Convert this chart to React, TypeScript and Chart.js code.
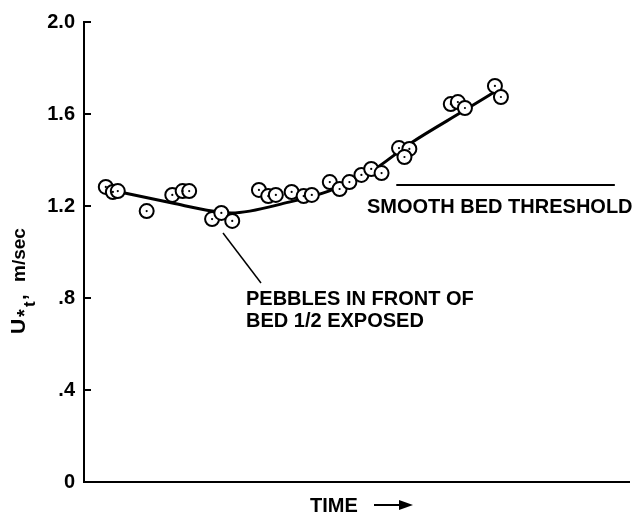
import React, { useEffect, useRef } from "react";
import { Chart, registerables } from "chart.js";

Chart.register(...registerables);

// Observed points (time in arbitrary units 0..100, U*t in m/sec)
const pointTimes = [4.0, 5.3, 6.2, 11.5, 16.2, 18.1, 19.3, 23.5, 25.2, 27.2, 32.1, 33.8, 35.2, 38.1, 40.3, 41.8, 45.1, 46.9, 48.7, 50.9, 52.7, 54.6, 57.8, 59.7, 58.8, 67.3, 68.6, 69.9, 75.4, 76.5];
const pointValues = [1.283, 1.261, 1.265, 1.178, 1.248, 1.265, 1.265, 1.143, 1.170, 1.135, 1.270, 1.243, 1.248, 1.261, 1.243, 1.248, 1.304, 1.274, 1.304, 1.335, 1.361, 1.343, 1.452, 1.448, 1.413, 1.643, 1.652, 1.626, 1.722, 1.674];

// Fitted curve
const curveTimes = [5.7, 16.2, 23.5, 27.0, 37.6, 44.9, 52.2, 60.0, 69.9, 75.9];
const curveValues = [1.265, 1.213, 1.178, 1.170, 1.217, 1.265, 1.343, 1.474, 1.617, 1.704];

// Smooth bed threshold
const thresholdTimes = [57.3, 97.4];
const thresholdValue = 1.291;

const yTickValues = [0, 0.4, 0.8, 1.2, 1.6, 2.0];
const yTickLabels = ["0", ".4", ".8", "1.2", "1.6", "2.0"];

const FONT = '"Liberation Sans", Arial, Helvetica, sans-serif';

const annotationPlugin = {
  id: "annotations",
  afterDraw(chart: any) {
    const ctx = chart.ctx;
    const ys = chart.scales.y;
    const area = chart.chartArea;
    ctx.save();
    ctx.strokeStyle = "#000";
    ctx.fillStyle = "#000";
    // inward y ticks
    ctx.lineWidth = 2;
    yTickValues.forEach((v) => {
      const py = Math.round(ys.getPixelForValue(v));
      ctx.beginPath();
      ctx.moveTo(area.left, py);
      ctx.lineTo(area.left + 7, py);
      ctx.stroke();
    });
    const txt = (s: string, x: number, y: number, size = 20) => {
      ctx.font = `bold ${size}px ${FONT}`;
      ctx.textAlign = "left";
      ctx.textBaseline = "alphabetic";
      ctx.fillText(s, x, y);
    };
    txt("SMOOTH BED THRESHOLD", 367, 213);
    txt("PEBBLES IN FRONT OF", 246, 305);
    txt("BED 1/2 EXPOSED", 246, 327);
    // leader line
    ctx.lineWidth = 1.5;
    ctx.beginPath();
    ctx.moveTo(223, 233);
    ctx.lineTo(261, 283);
    ctx.stroke();
    // x title
    txt("TIME", 310, 512);
    ctx.lineWidth = 2;
    ctx.beginPath();
    ctx.moveTo(374, 505);
    ctx.lineTo(402, 505);
    ctx.stroke();
    ctx.beginPath();
    ctx.moveTo(413, 505);
    ctx.lineTo(399, 500);
    ctx.lineTo(399, 510);
    ctx.closePath();
    ctx.fill();
    // y title rotated
    ctx.save();
    ctx.translate(25, 334);
    ctx.rotate(-Math.PI / 2);
    ctx.textBaseline = "alphabetic";
    ctx.textAlign = "left";
    const part = (s: string, size: number, x: number, dy: number) => {
      ctx.font = `bold ${size}px ${FONT}`;
      ctx.fillText(s, x, dy);
    };
    part("U", 21, 0, 0);
    part("*", 20, 17, 6);
    part("t", 17, 27, 10);
    part(",", 20, 34, 1);
    part("m/sec", 19, 52, 0);
    ctx.restore();
    ctx.restore();
  },
};

export default function App() {
  const ref = useRef<HTMLCanvasElement>(null);
  useEffect(() => {
    if (!ref.current) return;
    const points = pointTimes.map((t, i) => ({ x: t, y: pointValues[i] }));
    const curve = curveTimes.map((t, i) => ({ x: t, y: curveValues[i] }));
    const threshold = thresholdTimes.map((t) => ({ x: t, y: thresholdValue }));
    const chart = new Chart(ref.current, {
      type: "line",
      data: {
        datasets: [
          {
            data: curve,
            borderColor: "#000",
            borderWidth: 3,
            pointRadius: 0,
            cubicInterpolationMode: "monotone",
            order: 4,
          },
          {
            data: threshold,
            borderColor: "#000",
            borderWidth: 2,
            pointRadius: 0,
            order: 3,
          },
          {
            data: points,
            showLine: false,
            pointRadius: 7,
            pointBorderWidth: 2,
            pointBorderColor: "#000",
            pointBackgroundColor: "#fff",
            order: 2,
          },
          {
            data: points,
            showLine: false,
            pointRadius: 1.1,
            pointBorderWidth: 0,
            pointBackgroundColor: "#000",
            order: 1,
          },
        ],
      },
      options: {
        responsive: false,
        animation: false,
        devicePixelRatio: 1,
        layout: { padding: { left: 0, right: 6, top: 22, bottom: 0 } },
        plugins: { legend: { display: false }, tooltip: { enabled: false } },
        scales: {
          x: {
            type: "linear",
            min: 0,
            max: 100,
            grid: { display: false },
            ticks: { display: false },
            border: { display: true, color: "#000", width: 2 },
            afterFit: (s: any) => {
              s.height = 33;
            },
          },
          y: {
            type: "linear",
            min: 0,
            max: 2,
            afterBuildTicks: (s: any) => {
              s.ticks = yTickValues.map((v) => ({ value: v }));
            },
            ticks: {
              color: "#000",
              padding: 1,
              font: { family: FONT, size: 20, weight: "bold" },
              callback: (v: any) => {
                const i = yTickValues.findIndex((t) => Math.abs(t - v) < 1e-6);
                return i >= 0 ? yTickLabels[i] : "";
              },
            },
            grid: { display: false },
            border: { display: true, color: "#000", width: 2 },
            afterFit: (s: any) => {
              s.width = 84;
            },
          },
        },
      },
      plugins: [annotationPlugin],
    });
    return () => chart.destroy();
  }, []);
  return (
    <div style={{ position: "absolute", left: 0, top: 0, width: 638, height: 515, background: "#fff" }}>
      <canvas ref={ref} width={638} height={515} />
    </div>
  );
}
